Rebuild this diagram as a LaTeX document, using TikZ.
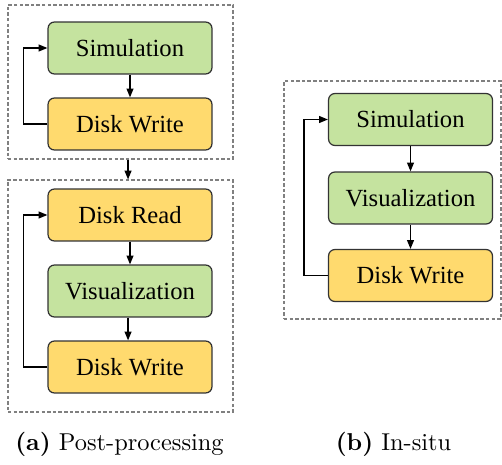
\documentclass[tikz,border=0pt]{standalone}
\usepackage{fontspec}
\usepackage{tikz}
\usetikzlibrary{arrows.meta,fit}
\newfontfamily\boxfont{Liberation Serif}
\definecolor{simgreen}{RGB}{197,227,159}
\definecolor{diskyellow}{RGB}{255,218,110}
\begin{document}
\begin{tikzpicture}[x=0.41pt,y=-0.41pt,
		proc_style/.style={rectangle,rounded corners=2.6pt,draw=black!80,line width=0.5pt,minimum width=67.2pt,minimum height=21.3pt,font=\boxfont\fontsize{10.1}{12}\selectfont},
		sim_style/.style={proc_style,fill=simgreen},
		disk_style/.style={proc_style,fill=diskyellow},
		group_style/.style={draw=black!50,dash pattern=on 1.4pt off 0.9pt,line width=0.45pt,inner sep=0pt},
		edge_style/.style={draw=black,line width=0.55pt,-{Triangle[length=3.6pt,width=2.8pt]}}]

		\useasboundingbox (0,0) rectangle (502,464);

		% post-processing
		\node[group_style,fit={(8,5) (233,159)}] (post_a) {};
		\node[group_style,fit={(8,180) (233,412)}] (post_b) {};
		\node[sim_style] (sim_a) at (130,48) {Simulation};
		\node[disk_style] (write_a) at (130,124) {Disk Write};
		\node[disk_style] (read_b) at (130,215) {Disk Read};
		\node[sim_style] (vis_b) at (130,291) {Visualization};
		\node[disk_style] (write_b) at (130,367) {Disk Write};

		\draw[edge_style] (sim_a) -- (write_a);
		\draw[edge_style] (write_a.west) -- ++(-24,0) |- (sim_a.west);
		\draw[edge_style] ([xshift=-0.8pt]write_a |- post_a.south) -- ([xshift=-0.8pt]write_a |- post_b.north);
		\draw[edge_style] (read_b) -- (vis_b);
		\draw[edge_style] ([xshift=-0.8pt]vis_b.south) -- ([xshift=-0.8pt]write_b.north);
		\draw[edge_style] (write_b.west) -- ++(-24,0) |- (read_b.west);

		% in-situ
		\node[group_style,fit={(284,81) (501,319)}] (insitu) {};
		\node[sim_style] (sim_c) at (410.5,119.5) {Simulation};
		\node[sim_style] (vis_c) at (410.5,198) {Visualization};
		\node[disk_style] (write_c) at (410.5,275.5) {Disk Write};

		\draw[edge_style] (sim_c) -- (vis_c);
		\draw[edge_style] (vis_c) -- (write_c);
		\draw[edge_style] (write_c.west) -- ++(-24,0) |- (sim_c.west);

		% captions
		\node[anchor=base] (cap_a) at (119.5,450) {\textbf{(a)} Post-processing};
		\node[anchor=base] (cap_b) at (393.5,450) {\textbf{(b)} In-situ};

\end{tikzpicture}
\end{document}
